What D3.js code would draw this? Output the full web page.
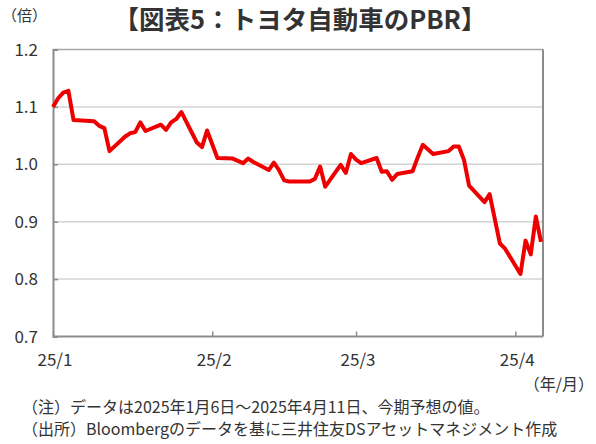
<!DOCTYPE html>
<html>
<head>
<meta charset="utf-8">
<script src="https://cdn.jsdelivr.net/npm/d3@7"></script>
<style>
  body { margin: 0; background: #fff; }
  text { font-family: "Noto Sans CJK JP", "Noto Sans", sans-serif; fill: #333; }
</style>
</head>
<body>
<div id="chart"></div>
<script>
// trading days, 2025/1/6 - 2025/4/11
var dates = [
  "2025-01-06","2025-01-07","2025-01-08","2025-01-09","2025-01-10",
  "2025-01-14","2025-01-15","2025-01-16","2025-01-17",
  "2025-01-20","2025-01-21","2025-01-22","2025-01-23","2025-01-24",
  "2025-01-27","2025-01-28","2025-01-29","2025-01-30","2025-01-31",
  "2025-02-03","2025-02-04","2025-02-05","2025-02-06","2025-02-07",
  "2025-02-10","2025-02-12","2025-02-13","2025-02-14",
  "2025-02-17","2025-02-18","2025-02-19","2025-02-20","2025-02-21",
  "2025-02-25","2025-02-26","2025-02-27","2025-02-28",
  "2025-03-03","2025-03-04","2025-03-05","2025-03-06","2025-03-07",
  "2025-03-10","2025-03-11","2025-03-12","2025-03-13","2025-03-14",
  "2025-03-17","2025-03-18","2025-03-19","2025-03-21",
  "2025-03-24","2025-03-25","2025-03-26","2025-03-27","2025-03-28",
  "2025-03-31","2025-04-01","2025-04-02","2025-04-03","2025-04-04",
  "2025-04-07","2025-04-08","2025-04-09","2025-04-10","2025-04-11"
];
var pbr = [
  1.100, 1.115, 1.125, 1.128, 1.077,
  1.075, 1.067, 1.063, 1.023,
  1.048, 1.054, 1.056, 1.073, 1.058,
  1.069, 1.060, 1.073, 1.079, 1.091,
  1.038, 1.030, 1.059, 1.035, 1.011,
  1.010, 1.002, 1.010, 1.004,
  0.990, 1.003, 0.990, 0.972, 0.970,
  0.970, 0.975, 0.996, 0.961,
  0.999, 0.985, 1.018, 1.008, 1.002,
  1.011, 0.987, 0.988, 0.973, 0.983,
  0.988, 1.012, 1.034, 1.018,
  1.023, 1.031, 1.031, 1.008, 0.963,
  0.934, 0.948, 0.905, 0.862, 0.853,
  0.809, 0.867, 0.843, 0.909, 0.865
];
var yTicks = [0.7, 0.8, 0.9, 1.0, 1.1, 1.2];
var xTickDates = ["2025-01-06","2025-02-06","2025-03-06","2025-04-06"];
var xTickLabels = ["25/1","25/2","25/3","25/4"];

var title = "【図表5：トヨタ自動車のPBR】";
var notes = [
  "（注）データは2025年1月6日～2025年4月11日、今期予想の値。",
  "（出所）Bloombergのデータを基に三井住友DSアセットマネジメント作成"
];

var parse = d3.timeParse("%Y-%m-%d");
var data = dates.map(function(d, i) { return {date: parse(d), v: pbr[i]}; });

var W = 596, H = 444;
var plotLeft = 53, plotRight = 543, plotTop = 49.5, plotBottom = 336.5;

var svg = d3.select("#chart").append("svg")
  .attr("width", W)
  .attr("height", H);

var x = d3.scaleTime()
  .domain([parse("2025-01-06"), parse("2025-04-11")])
  .range([plotLeft, plotRight - 2]);

var y = d3.scaleLinear()
  .domain([0.7, 1.2])
  .range([plotBottom, plotTop]);

// gridlines
svg.append("g")
  .selectAll("line")
  .data(yTicks.filter(function(t) { return t > 0.7 && t < 1.2; }))
  .join("line")
    .attr("x1", plotLeft)
    .attr("x2", plotRight)
    .attr("y1", function(d) { return y(d); })
    .attr("y2", function(d) { return y(d); })
    .attr("stroke", "#d4d4d4")
    .attr("stroke-width", 1.5);

// top + right frame
svg.append("line")
  .attr("x1", plotLeft).attr("x2", plotRight)
  .attr("y1", y(1.2)).attr("y2", y(1.2))
  .attr("stroke", "#a6a6a6").attr("stroke-width", 1.5);
svg.append("line")
  .attr("x1", plotRight).attr("x2", plotRight)
  .attr("y1", y(1.2)).attr("y2", y(0.7))
  .attr("stroke", "#8c8c8c").attr("stroke-width", 2);

// y axis (ticks inside)
var yAxis = d3.axisRight(y)
  .tickValues(yTicks)
  .tickSize(5)
  .tickFormat("");
var gy = svg.append("g")
  .attr("transform", "translate(" + plotLeft + ",0)")
  .call(yAxis);
gy.select(".domain").attr("stroke", "#8c8c8c").attr("stroke-width", 2);
gy.selectAll(".tick line").attr("stroke", "#8c8c8c").attr("stroke-width", 1.5);

svg.append("g")
  .selectAll("text")
  .data(yTicks)
  .join("text")
    .attr("x", 38)
    .attr("y", function(d) { return y(d) + 6; })
    .attr("text-anchor", "end")
    .style("font-size", "17px")
    .text(function(d) { return d3.format(".1f")(d); });

// x axis (ticks inside)
var xAxis = d3.axisTop(x)
  .tickValues(xTickDates.map(parse))
  .tickSize(5)
  .tickFormat("");
var gx = svg.append("g")
  .attr("transform", "translate(0," + plotBottom + ")")
  .call(xAxis);
gx.select(".domain").attr("stroke", "#8c8c8c").attr("stroke-width", 2)
  .attr("d", "M" + plotLeft + ",0H" + plotRight);
gx.selectAll(".tick line").attr("stroke", "#8c8c8c").attr("stroke-width", 1.5);

svg.append("g")
  .selectAll("text")
  .data(xTickDates)
  .join("text")
    .attr("x", function(d) { return x(parse(d)) + 2; })
    .attr("y", 366)
    .attr("text-anchor", "middle")
    .style("font-size", "17px")
    .text(function(d, i) { return xTickLabels[i]; });

// the line
var line = d3.line()
  .x(function(d) { return x(d.date); })
  .y(function(d) { return y(d.v); });

svg.append("path")
  .datum(data)
  .attr("fill", "none")
  .attr("stroke", "#ee0000")
  .attr("stroke-width", 4)
  .attr("stroke-linejoin", "round")
  .attr("d", line);

// title and labels
svg.append("text")
  .attr("x", 300)
  .attr("y", 29)
  .attr("text-anchor", "middle")
  .style("font-size", "25.5px")
  .style("font-weight", "bold")
  .text(title);

svg.append("text")
  .attr("x", 2)
  .attr("y", 21)
  .style("font-size", "15px")
  .text("（倍）");

svg.append("text")
  .attr("x", 594)
  .attr("y", 390)
  .attr("text-anchor", "end")
  .style("font-size", "16px")
  .text("（年/月）");

svg.append("g")
  .selectAll("text")
  .data(notes)
  .join("text")
    .attr("x", 22)
    .attr("y", function(d, i) { return 413 + i * 22; })
    .style("font-size", "16px")
    .text(function(d) { return d; });
</script>
</body>
</html>
